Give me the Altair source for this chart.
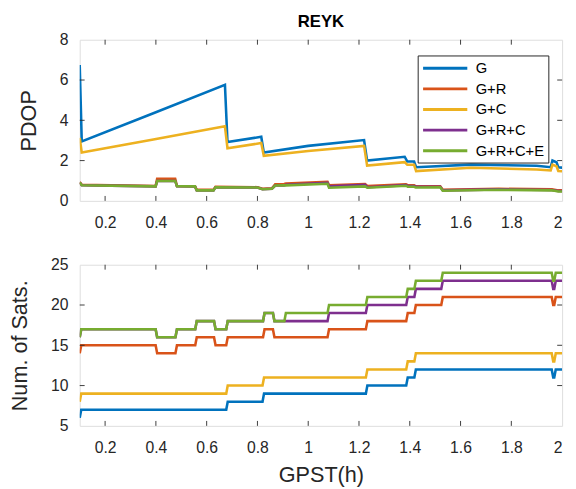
import altair as alt
import pandas as pd

series = ["G", "G+R", "G+C", "G+R+C", "G+R+C+E"]
colors = ["#0072BD", "#D95319", "#EDB120", "#7E2F8E", "#77AC30"]

# ---- PDOP (top panel) ----
pdop_hi_t = [0.100, 0.108, 0.39, 0.672, 0.682, 0.815, 0.825, 1.0, 1.22, 1.232,
             1.38, 1.39, 1.417, 1.425, 1.64, 1.90, 1.955, 1.962, 1.978, 1.985, 2.0]
pdop_G = [6.75, 2.95, 4.35, 5.76, 2.92, 3.18, 2.40, 2.73, 3.02, 2.00,
          2.19, 1.96, 1.95, 1.67, 1.80, 1.74, 1.67, 2.00, 1.92, 1.67, 1.65]
pdop_GC = [3.13, 2.40, 3.05, 3.70, 2.61, 2.87, 2.24, 2.48, 2.73, 1.75,
           1.92, 1.80, 1.79, 1.48, 1.64, 1.56, 1.51, 1.80, 1.72, 1.48, 1.47]

pdop_lo_t = [0.100, 0.108, 0.399, 0.405, 0.476, 0.483, 0.554, 0.561, 0.627, 0.635,
             0.80, 0.82, 0.857, 0.870, 0.905, 0.912, 1.076, 1.082, 1.224, 1.233,
             1.385, 1.392, 1.417, 1.424, 1.52, 1.53, 1.75, 1.96, 1.97, 1.985, 2.0]
pdop_GR = [0.93, 0.80, 0.74, 1.10, 1.10, 0.74, 0.73, 0.55, 0.55, 0.70,
           0.68, 0.60, 0.62, 0.82, 0.84, 0.86, 0.95, 0.78, 0.84, 0.74,
           0.82, 0.78, 0.78, 0.72, 0.72, 0.55, 0.60, 0.57, 0.55, 0.52, 0.52]
pdop_GRC = [0.91, 0.78, 0.72, 0.99, 0.99, 0.73, 0.72, 0.52, 0.52, 0.68,
            0.66, 0.58, 0.60, 0.76, 0.77, 0.80, 0.90, 0.72, 0.80, 0.68,
            0.78, 0.74, 0.74, 0.70, 0.70, 0.52, 0.57, 0.54, 0.52, 0.49, 0.49]
pdop_GRCE = [0.91, 0.78, 0.72, 0.99, 0.99, 0.73, 0.72, 0.52, 0.52, 0.68,
             0.66, 0.58, 0.60, 0.76, 0.77, 0.77, 0.85, 0.65, 0.72, 0.65,
             0.75, 0.70, 0.70, 0.66, 0.68, 0.50, 0.55, 0.52, 0.50, 0.47, 0.47]

# ---- Number of satellites (bottom panel): level start times and levels ----
nsat_t_short = [0.100, 0.106, 0.683, 0.826, 1.233, 1.392, 1.424, 1.965, 1.975]
nsat_G = [6, 7, 8, 9, 10, 11, 12, 11, 12]
nsat_GC = [8, 9, 10, 11, 12, 13, 14, 13, 14]
nsat_t_R = [0.100, 0.106, 0.405, 0.483, 0.561, 0.635, 0.683, 0.828, 0.867,
            1.082, 1.233, 1.392, 1.424, 1.53, 1.965, 1.975]
nsat_GR = [14, 15, 14, 15, 16, 15, 16, 17, 16, 17, 18, 19, 20, 21, 20, 21]
nsat_t_long = [0.100, 0.106, 0.405, 0.483, 0.561, 0.635, 0.683, 0.828, 0.867,
               0.912, 1.082, 1.233, 1.392, 1.424, 1.53, 1.965, 1.975]
nsat_GRC = [16, 17, 16, 17, 18, 17, 18, 19, 18, 18, 19, 20, 21, 22, 23, 22, 23]
nsat_GRCE = [16, 17, 16, 17, 18, 17, 18, 19, 18, 19, 20, 21, 22, 23, 24, 23, 24]

x_tick_values = [0.2, 0.4, 0.6, 0.8, 1.0, 1.2, 1.4, 1.6, 1.8, 2.0]
x_inner_ticks = [0.2, 0.4, 0.6, 0.8, 1.0, 1.2, 1.4, 1.6, 1.8]
pdop_tick_values = [0, 2, 4, 6, 8]
pdop_inner_ticks = [2, 4, 6]
nsat_tick_values = [5, 10, 15, 20, 25]
nsat_inner_ticks = [10, 15, 20]

W, H = 491, 164
FONT = "Liberation Sans"
TXT = "#262626"


def step_points(times, levels, end=2.0, ramp=0.006):
    xs, ys = [], []
    for i, lv in enumerate(levels):
        s = times[i]
        e = times[i + 1] - ramp if i + 1 < len(times) else end
        xs += [s, max(s, e)]
        ys += [lv, lv]
    return xs, ys


rows = []
for name, t, v in [("G", pdop_hi_t, pdop_G), ("G+R", pdop_lo_t, pdop_GR),
                   ("G+C", pdop_hi_t, pdop_GC), ("G+R+C", pdop_lo_t, pdop_GRC),
                   ("G+R+C+E", pdop_lo_t, pdop_GRCE)]:
    for i, (a, b) in enumerate(zip(t, v)):
        rows.append({"s": name, "t": a, "v": b, "i": i})
pdop_df = pd.DataFrame(rows)

rows = []
for name, t, lv in [("G", nsat_t_short, nsat_G), ("G+R", nsat_t_R, nsat_GR),
                    ("G+C", nsat_t_short, nsat_GC), ("G+R+C", nsat_t_long, nsat_GRC),
                    ("G+R+C+E", nsat_t_long, nsat_GRCE)]:
    xs, ys = step_points(t, lv)
    for i, (a, b) in enumerate(zip(xs, ys)):
        rows.append({"s": name, "t": a, "v": b, "i": i})
nsat_df = pd.DataFrame(rows)

x_scale = alt.Scale(domain=[0.1, 2.0], nice=False, zero=False)


def axis(values, title, label_pad, title_pad):
    kw = dict(values=values, format="~g", ticks=False, domain=False, grid=False,
              labelFont=FONT, labelFontSize=16, labelColor=TXT, labelPadding=label_pad,
              titleFont=FONT, titleFontSize=22, titleFontWeight="normal",
              titleColor=TXT, titlePadding=title_pad)
    if title is not None:
        kw["title"] = title
    return alt.Axis(**kw)


def panel(df, y_scale, y_values, y_inner, x_title, y_title, legend):
    xa = axis(x_tick_values, x_title, 14, 10)
    ya = axis(y_values, y_title, 12, 19)
    xkw = {} if x_title is not None else {"title": None}
    lines = alt.Chart(df).mark_line(strokeWidth=2.6, clip=True).encode(
        x=alt.X("t:Q", scale=x_scale, axis=xa, **xkw),
        y=alt.Y("v:Q", scale=y_scale, axis=ya),
        color=alt.Color("s:N", scale=alt.Scale(domain=series, range=colors), legend=legend),
        order=alt.Order("i:Q"),
    )
    xtd = pd.DataFrame({"t": x_inner_ticks})
    ytd = pd.DataFrame({"v": y_inner})
    rule = dict(color=TXT, strokeWidth=0.9)
    xb = alt.Chart(xtd).mark_rule(**rule).encode(
        x=alt.X("t:Q", scale=x_scale, axis=xa, **xkw), y=alt.value(H), y2=alt.value(H - 5))
    xtp = alt.Chart(xtd).mark_rule(**rule).encode(
        x=alt.X("t:Q", scale=x_scale, axis=xa, **xkw), y=alt.value(0), y2=alt.value(5))
    yl = alt.Chart(ytd).mark_rule(**rule).encode(
        y=alt.Y("v:Q", scale=y_scale, axis=ya), x=alt.value(0), x2=alt.value(5))
    yr = alt.Chart(ytd).mark_rule(**rule).encode(
        y=alt.Y("v:Q", scale=y_scale, axis=ya), x=alt.value(W), x2=alt.value(W - 5))
    return alt.layer(lines, xb, xtp, yl, yr)


pdop_y = alt.Scale(domain=[0, 8], nice=False, zero=False)
nsat_y = alt.Scale(domain=[5, 25], nice=False, zero=False)

# long horizontal stroke symbol for the legend (45 px at size 225)
legend = alt.Legend(title=None, orient="none", legendX=344, legendY=16,
                    fillColor="white", strokeColor=TXT, padding=4,
                    labelFont=FONT, labelFontSize=15, labelColor="#000",
                    labelOffset=22, rowPadding=4, symbolType="M-3,0H3",
                    symbolSize=225, symbolStrokeWidth=3, symbolOffset=15)

top = panel(pdop_df, pdop_y, pdop_tick_values, pdop_inner_ticks, None, "PDOP", legend).properties(
    width=W, height=H,
    title=alt.TitleParams("REYK", font=FONT, fontSize=17, fontWeight="bold",
                          color="#000", anchor="middle", offset=1),
)

bottom = panel(nsat_df, nsat_y, nsat_tick_values, nsat_inner_ticks, "GPST(h)",
               "Num. of Sats.", None).properties(width=W, height=H)

chart = alt.vconcat(top, bottom, spacing=25).resolve_scale(
    color="independent").resolve_legend(color="independent").properties(
    padding={"left": 0, "top": 0, "right": 5, "bottom": 0}
).configure_view(stroke=TXT, strokeWidth=1).configure(font=FONT, background="white")

chart.save("out.html", embed_options={"renderer": "svg", "actions": False})
